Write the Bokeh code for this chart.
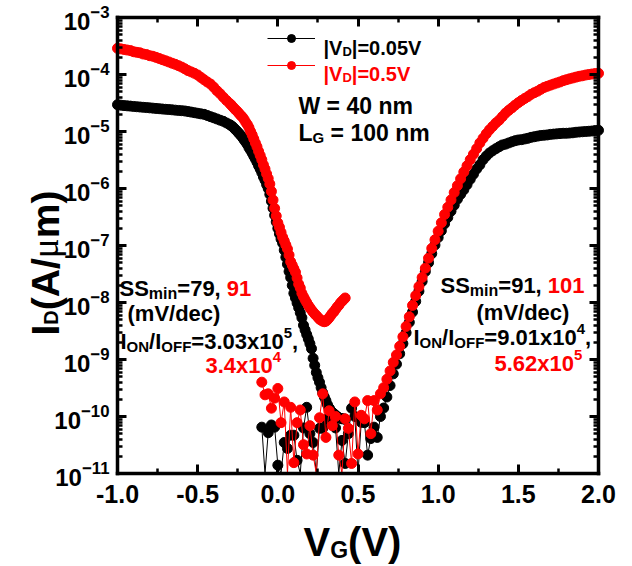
import numpy as np
from math import pi
from bokeh.plotting import figure
from bokeh.models import (Range1d, LinearAxis, LogAxis, FixedTicker, Label, Legend,
                          LegendItem, NumeralTickFormatter, CustomJSTickFormatter,
                          ColumnDataSource, CDSView, BooleanFilter)
from bokeh.embed import file_html
from bokeh.resources import INLINE

# ---------------- data ----------------
# branch A: descending branch, VG from -1.00 to 0.42
vg_a = np.round(np.concatenate([np.arange(-1.00, -0.295, 0.02), np.arange(-0.29, 0.425, 0.01)]), 2)
# branch B: off-state floor and rising branch, VG from -0.10 to 2.00
vg_b = np.round(np.arange(-0.10, 2.005, 0.02), 2)

# 1e-11 = at / below the bottom of the axis
id_005_a = [
    2.95e-5, 2.9e-5, 2.85e-5, 2.82e-5, 2.79e-5, 2.75e-5, 2.72e-5, 2.69e-5, 2.66e-5, 2.63e-5,
    2.6e-5, 2.57e-5, 2.54e-5, 2.51e-5, 2.48e-5, 2.45e-5, 2.43e-5, 2.4e-5, 2.37e-5, 2.34e-5,
    2.32e-5, 2.29e-5, 2.24e-5, 2.19e-5, 2.14e-5, 2.09e-5, 2.04e-5, 2.0e-5, 1.91e-5, 1.82e-5,
    1.74e-5, 1.66e-5, 1.58e-5, 1.51e-5, 1.41e-5, 1.32e-5,
    1.26e-5, 1.2e-5, 1.12e-5, 1.05e-5, 9.8e-6, 9.1e-6, 8.5e-6, 7.8e-6, 7.1e-6, 6.5e-6,
    5.9e-6, 5.2e-6, 4.7e-6, 4.2e-6, 3.7e-6, 3.3e-6, 2.9e-6, 2.5e-6, 2.2e-6, 1.9e-6,
    1.6e-6, 1.4e-6, 1.17e-6, 1.0e-6, 7.9e-7, 6.0e-7, 4.5e-7, 3.4e-7, 2.6e-7, 2.0e-7,
    1.6e-7, 1.3e-7, 1.1e-7, 8.3e-8, 6.2e-8, 4.7e-8, 3.5e-8, 2.75e-8, 2.0e-8, 1.45e-8,
    1.2e-8, 9.8e-9, 8.1e-9, 6.6e-9, 5.4e-9, 4.0e-9, 3.3e-9, 2.75e-9, 2.3e-9, 1.9e-9,
    1.55e-9, 1.05e-9, 7.9e-10, 5.9e-10, 4.8e-10, 4.0e-10, 3.2e-10, 2.6e-10, 2.2e-10, 1.9e-10,
    1.6e-10, 1.4e-10, 1.26e-10, 1.17e-10, 1.12e-10, 1.05e-10, 1.0e-10, 9.5e-11, 9.3e-11, 9.1e-11,
    9.1e-11, 8.9e-11,
]
id_005_b = [
    6.5e-11, 1e-11, 5.2e-11, 7.1e-11, 6.5e-11, 1.4e-11, 1e-11, 3.5e-11, 2.75e-11, 4.7e-11,
    4.7e-11, 1.7e-11, 1e-11, 6.3e-11, 1.45e-10, 5.0e-11, 3.5e-11, 1e-11, 6.2e-11, 6.2e-11,
    8.9e-11, 1.4e-10, 1.05e-10, 6.3e-11, 1e-11, 3.8e-11, 1.5e-11, 5.0e-11, 1.4e-10, 1.0e-10,
    1e-11, 7.9e-11, 7.8e-11, 2.1e-11, 4.1e-11, 6.5e-11, 4.3e-11,
    1.0e-10, 1.41e-10, 2.2e-10, 3.5e-10, 5.6e-10, 8.3e-10, 1.26e-9, 1.9e-9, 2.95e-9, 4.5e-9,
    6.8e-9, 1.05e-8, 1.58e-8, 2.35e-8, 3.5e-8, 5.0e-8, 7.2e-8, 1.02e-7, 1.38e-7, 1.82e-7,
    2.4e-7, 3.1e-7, 4.0e-7, 5.1e-7, 6.5e-7, 7.9e-7, 9.5e-7, 1.17e-6, 1.45e-6, 1.78e-6,
    2.2e-6, 2.6e-6, 3.2e-6, 3.7e-6, 4.2e-6, 4.6e-6, 5.0e-6, 5.4e-6, 5.8e-6, 6.0e-6,
    6.3e-6, 6.6e-6, 6.9e-6, 7.1e-6, 7.2e-6, 7.4e-6, 7.6e-6, 7.9e-6, 8.1e-6, 8.3e-6,
    8.5e-6, 8.6e-6, 8.7e-6, 8.9e-6, 9.0e-6, 9.1e-6, 9.2e-6, 9.3e-6, 9.3e-6, 9.4e-6,
    9.5e-6, 9.7e-6, 9.8e-6, 9.9e-6, 1.0e-5, 1.01e-5, 1.02e-5, 1.04e-5, 1.05e-5,
]
id_05_a = [
    2.88e-4, 2.82e-4, 2.75e-4, 2.69e-4, 2.63e-4, 2.51e-4, 2.45e-4, 2.40e-4, 2.29e-4, 2.24e-4,
    2.14e-4, 2.09e-4, 2.00e-4, 1.91e-4, 1.82e-4, 1.74e-4, 1.66e-4, 1.58e-4, 1.51e-4, 1.43e-4,
    1.35e-4, 1.26e-4, 1.17e-4, 1.11e-4, 1.05e-4, 9.8e-5, 8.9e-5, 8.1e-5, 7.4e-5, 6.8e-5,
    6.0e-5, 5.2e-5, 4.6e-5, 4.0e-5, 3.5e-5, 3.1e-5,
    2.9e-5, 2.7e-5, 2.5e-5, 2.35e-5, 2.2e-5, 2.04e-5, 1.9e-5, 1.78e-5, 1.62e-5, 1.45e-5,
    1.32e-5, 1.17e-5, 1.0e-5, 8.7e-6, 7.4e-6, 6.3e-6, 5.4e-6, 4.5e-6, 3.8e-6, 3.2e-6,
    2.6e-6, 2.2e-6, 1.8e-6, 1.5e-6, 1.2e-6, 8.9e-7, 6.3e-7, 4.5e-7, 3.3e-7, 2.5e-7,
    2.1e-7, 1.7e-7, 1.4e-7, 1.2e-7, 1.02e-7, 8.7e-8, 6.8e-8, 5.2e-8, 4.5e-8, 3.9e-8,
    3.4e-8, 2.7e-8, 2.1e-8, 1.8e-8, 1.45e-8, 1.26e-8, 1.12e-8, 1.0e-8, 8.9e-9, 8.1e-9,
    7.4e-9, 6.8e-9, 6.3e-9, 5.9e-9, 5.5e-9, 5.1e-9, 4.9e-9, 4.7e-9, 4.6e-9, 4.7e-9,
    5.0e-9, 5.4e-9, 5.9e-9, 6.5e-9, 6.9e-9, 7.6e-9, 8.3e-9, 8.9e-9, 9.8e-9, 1.05e-8,
    1.12e-8, 1.2e-8,
]
id_05_b = [
    4.0e-10, 2.4e-10, 2.5e-10, 1.4e-10, 2.1e-10, 3.1e-10, 7.8e-11, 1.8e-10, 1e-11, 1.45e-10,
    1.55e-11, 7.8e-11, 1.3e-10, 3.2e-11, 2.2e-11, 6.9e-11, 2.1e-11, 1e-11, 9.5e-11, 2.5e-10,
    4.3e-11, 1.26e-10, 6.9e-11, 1.0e-10, 2.1e-11, 1e-11, 9.1e-11, 6.2e-11, 1.5e-11, 1.8e-10,
    2.2e-11, 1.05e-10, 9.1e-11, 1.9e-10, 5.0e-11, 1.9e-10, 1.3e-10,
    2.5e-10, 3.2e-10, 4.5e-10, 6.3e-10, 8.9e-10, 1.2e-9, 1.7e-9, 2.5e-9, 3.8e-9, 5.6e-9,
    8.9e-9, 1.32e-8, 1.9e-8, 2.75e-8, 4.0e-8, 6.0e-8, 8.9e-8, 1.26e-7, 1.78e-7, 2.5e-7,
    3.5e-7, 4.7e-7, 6.3e-7, 8.5e-7, 1.12e-6, 1.48e-6, 1.95e-6, 2.5e-6, 3.2e-6, 4.0e-6,
    5.0e-6, 6.3e-6, 7.6e-6, 9.1e-6, 1.07e-5, 1.23e-5, 1.41e-5, 1.58e-5, 1.82e-5, 2.1e-5,
    2.35e-5, 2.6e-5, 2.9e-5, 3.2e-5, 3.5e-5, 3.8e-5, 4.1e-5, 4.5e-5, 4.8e-5, 5.1e-5,
    5.5e-5, 5.9e-5, 6.2e-5, 6.5e-5, 6.8e-5, 7.1e-5, 7.4e-5, 7.8e-5, 8.1e-5, 8.4e-5,
    8.7e-5, 9.0e-5, 9.3e-5, 9.5e-5, 9.8e-5, 1.0e-4, 1.02e-4, 1.04e-4, 1.05e-4,
]

x_ticks = [-1.0, -0.5, 0.0, 0.5, 1.0, 1.5, 2.0]
x_minor = [-0.75, -0.25, 0.25, 0.75, 1.25, 1.75]
y_ticks = [1e-11, 1e-10, 1e-9, 1e-8, 1e-7, 1e-6, 1e-5, 1e-4, 1e-3]
y_minor = [m * 10.0 ** e for e in range(-11, -3) for m in range(2, 10)]
X_MIN, X_MAX = -1.0, 2.0
Y_MIN, Y_MAX = 1e-11, 1e-3

RED = "#ff0000"
BLACK = "#000000"
FONT = "Liberation Sans"

# ---------------- geometry (canvas pixels) ----------------
W, H = 632, 566
FL, FR, FT, FB = 117, 598, 17, 473   # where the axes box sits


def px2x(px):
    return X_MIN + (px - FL) * (X_MAX - X_MIN) / (FR - FL)


def px2y(py):
    lo, hi = np.log10(Y_MIN), np.log10(Y_MAX)
    return 10 ** (hi - (py - FT) * (hi - lo) / (FB - FT))


p = figure(width=W, height=H, x_range=Range1d(px2x(0), px2x(W)),
           y_range=Range1d(px2y(H), px2y(0)), y_axis_type="log",
           x_axis_location=None, y_axis_location=None,
           output_backend="svg", toolbar_location=None,
           min_border=0, min_border_left=0, min_border_right=0,
           min_border_top=0, min_border_bottom=0)
p.xgrid.visible = False
p.ygrid.visible = False
p.outline_line_color = None
p.background_fill_color = "white"
p.border_fill_color = "white"

xt = FixedTicker(ticks=x_ticks, minor_ticks=x_minor)
yt = FixedTicker(ticks=y_ticks, minor_ticks=y_minor)
blank = CustomJSTickFormatter(code="return ''")


def style_axis(ax, label_size, standoff):
    ax.axis_line_width = 3.5
    ax.axis_line_color = "black"
    ax.axis_line_cap = "square"
    ax.major_tick_in = 9
    ax.major_tick_out = 0
    ax.major_tick_line_width = 3
    ax.minor_tick_in = 5
    ax.minor_tick_out = 0
    ax.minor_tick_line_width = 2.5
    ax.major_label_text_font = FONT
    ax.major_label_text_font_style = "bold"
    ax.major_label_text_font_size = label_size
    ax.major_label_text_color = "black"
    ax.major_label_standoff = standoff


bottom = LinearAxis(ticker=xt, formatter=NumeralTickFormatter(format="0.0"),
                    fixed_location=Y_MIN, bounds=(X_MIN, X_MAX))
style_axis(bottom, "25px", 11)
p.add_layout(bottom, "below")
left = LogAxis(ticker=yt, fixed_location=X_MIN, bounds=(Y_MIN, Y_MAX))
style_axis(left, "24px", 8)
p.add_layout(left, "left")
top = LinearAxis(ticker=xt, formatter=blank, fixed_location=Y_MAX, bounds=(X_MIN, X_MAX))
style_axis(top, "10px", 0)
p.add_layout(top, "above")
right = LogAxis(ticker=yt, formatter=blank, fixed_location=X_MAX, bounds=(Y_MIN, Y_MAX))
style_axis(right, "10px", 0)
p.add_layout(right, "right")

# ---------------- curves ----------------
MS = 10


def series(vg, ids, color):
    src = ColumnDataSource(dict(x=list(vg), y=list(ids)))
    view = CDSView(filter=BooleanFilter([v > 1.05 * Y_MIN for v in ids]))
    ln = p.line("x", "y", source=src, line_color=color, line_width=1)
    sc = p.scatter("x", "y", source=src, view=view, marker="circle", size=MS,
                   fill_color=color, line_color=color)
    return ln, sc


bl_a, bs_a = series(vg_a, id_005_a, BLACK)
series(vg_b, id_005_b, BLACK)
rl_a, rs_a = series(vg_a, id_05_a, RED)
series(vg_b, id_05_b, RED)

legend = Legend(items=[LegendItem(label=" ", renderers=[bl_a, bs_a]),
                       LegendItem(label=" ", renderers=[rl_a, rs_a])],
                location=(267, H - 75), orientation="vertical", glyph_width=48, glyph_height=20,
                label_height=20, label_width=1, spacing=7, padding=0, margin=0,
                border_line_alpha=0, background_fill_alpha=0, label_standoff=0,
                label_text_font_size="1px")
p.add_layout(legend)

# ---------------- texts ----------------
CW = {' ': 278, '!': 333, '(': 333, ')': 333, ',': 278, '-': 333, '.': 278, '/': 278,
      '=': 584, 'A': 722, 'D': 722, 'F': 611, 'G': 778, 'I': 278, 'L': 611, 'N': 722,
      'O': 778, 'S': 667, 'V': 667, 'W': 944, 'x': 556, 'c': 556, 'd': 611, 'e': 556,
      'i': 278, 'm': 889, 'n': 611, 'v': 556, '|': 280}


def tw(s, size):
    return sum(CW.get(c, 556) for c in s) * size / 1000.0


def rich(parts, px, py, angle=0.0):
    cur = 0.0
    for part in parts:
        text, size, color = part[0], part[1], part[2]
        shift = part[3] if len(part) > 3 else 0
        font = part[4] if len(part) > 4 else FONT
        style = part[5] if len(part) > 5 else "bold"
        adv = part[6] if len(part) > 6 else tw(text, size)
        lead = len(text) - len(text.lstrip(" "))
        off = tw(" " * lead, size)
        shown = text.strip(" ")
        if angle == 0.0:
            lx, ly = px + cur + off, py + shift
        else:
            lx, ly = px + shift, py - cur - off
        p.add_layout(Label(x=px2x(lx), y=px2y(ly), text=shown, text_font=font,
                           text_font_style=style, text_font_size=f"{size}px",
                           text_color=color, text_align="left", text_baseline="alphabetic",
                           angle=angle))
        cur += adv


B = BLACK
rich([("|V", 20, B), ("D", 13, B, 4), ("|=0.05V", 20, B)], 323, 47)
rich([("|V", 20, RED), ("D", 13, RED, 4), ("|=0.5V", 20, RED)], 323, 73)
rich([("W = 40 nm", 23, B)], 298, 105)
rich([("L", 23, B), ("G", 15, B, 5), (" = 100 nm", 23, B)], 298, 132)

rich([("SS", 22, B), ("min", 16, B, 5), ("=79, ", 22, B), ("91", 22, RED)], 119, 288)
rich([("(mV/dec)", 22, B)], 127, 313)
rich([("I", 22, B), ("ON", 15, B, 5), ("/I", 22, B), ("OFF", 15, B, 5),
      ("=3.03x10", 22, B), ("5", 15, B, -9), (",", 22, B)], 120, 341)
rich([("3.4x10", 22, RED), ("4", 15, RED, -9)], 205, 365)

rich([("SS", 22, B), ("min", 16, B, 5), ("=91, ", 22, B), ("101", 22, RED)], 440, 285)
rich([("(mV/dec)", 22, B)], 476, 312)
rich([("I", 22, B), ("ON", 15, B, 5), ("/I", 22, B), ("OFF", 15, B, 5),
      ("=9.01x10", 22, B), ("4", 15, B, -9), (",", 22, B)], 413, 337)
rich([("5.62x10", 22, RED), ("5", 15, RED, -9)], 494, 363)

rich([("V", 40, B), ("G", 23, B, 8), ("(V)", 40, B)], 303, 541)
rich([("I", 39, B), ("D", 20, B, 5), ("(A/", 39, B),
      ("\u03bc", 37, B, 0, "Liberation Serif", "normal", 20), ("m)", 39, B)],
     45, 335, angle=pi / 2)

open("out.html", "w").write(file_html(p, INLINE))
